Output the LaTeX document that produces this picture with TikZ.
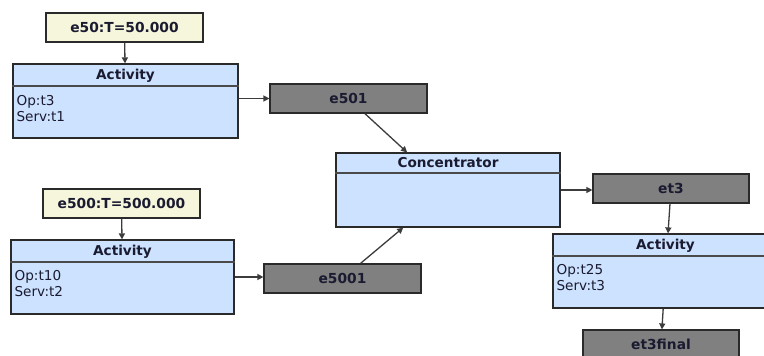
\documentclass[tikz,border=0pt]{standalone}
\usepackage{fontspec}
\setmainfont{DejaVu Sans}
\usetikzlibrary{arrows.meta}
\definecolor{cream}{HTML}{F6F6DC}
\definecolor{lblue}{HTML}{CCE2FF}
\definecolor{dgray}{HTML}{808080}
\definecolor{edgec}{HTML}{2A2A2A}
\definecolor{txt}{HTML}{1A1A30}
\definecolor{conn}{HTML}{3C3C3C}
\definecolor{sepc}{HTML}{4A4A4A}
\tikzset{
  base/.style={draw=edgec, line width=1.2pt, rectangle, inner sep=0pt, text=txt,
    font=\fontsize{13.8}{16}\selectfont\bfseries},
  evt/.style={base, fill=cream, minimum width=157pt, minimum height=29pt},
  msg/.style={base, fill=dgray, minimum width=157pt, minimum height=29pt},
  cls/.style={base, fill=lblue, minimum width=225pt, minimum height=74pt},
  ttl/.style={text=txt, inner sep=0pt, anchor=base, font=\fontsize{13.6}{16}\selectfont\bfseries},
  bodytxt/.style={text=txt, inner sep=0pt, anchor=base west, font=\fontsize{13.6}{16}\selectfont},
  sepline/.style={draw=sepc, line width=2pt},
  link/.style={draw=conn, line width=1.3pt, -{Triangle[length=6pt,width=6pt]}},
}
\begin{document}
\begin{tikzpicture}[x=1pt,y=-1pt]
\useasboundingbox (0,0) rectangle (764,356);
\clip (0,0) rectangle (764,356);
\fill[white] (0,0) rectangle (764,356);

% top chain
\node[evt] (e50) at (124.5,27.5) {e50:T=50.000};
\node[cls] (act1) at (125.5,101) {};
\node[msg] (e501) at (348.5,98.5) {e501};

% bottom chain
\node[evt] (e500) at (121.5,203.5) {e500:T=500.000};
\node[cls, minimum width=223pt] (act2) at (122.5,277) {};
\node[msg] (e5001) at (342.5,278.5) {e5001};

% concentrator
\node[cls, minimum width=224pt] (conc) at (448,190) {};

% right chain
\node[msg, minimum width=156pt] (et3) at (671,188.5) {et3};
\node[cls] (act3) at (665.5,271) {};
\node[msg, minimum width=156pt] (et3f) at (661,344.5) {et3final};

% dividers
\foreach \n/\d in {act1/23, act2/23, conc/21, act3/23}{
  \draw[sepline] ([yshift=-\d pt]\n.north west) -- ([yshift=-\d pt]\n.north east);
}

% titles
\node[ttl] (act1t) at ([yshift=-16.5pt]act1.north) {Activity};
\node[ttl] (act2t) at ([yshift=-16.5pt]act2.north) {Activity};
\node[ttl] (conct) at ([yshift=-15.5pt]conc.north) {Concentrator};
\node[ttl] (act3t) at ([yshift=-16.5pt]act3.north) {Activity};

% bodies
\node[bodytxt] (act1op) at ([xshift=4pt,yshift=-42pt]act1.north west) {Op:t3};
\node[bodytxt] (act1sv) at ([xshift=4pt,yshift=-58pt]act1.north west) {Serv:t1};
\node[bodytxt] (act2op) at ([xshift=4pt,yshift=-41pt]act2.north west) {Op:t10};
\node[bodytxt] (act2sv) at ([xshift=4pt,yshift=-57pt]act2.north west) {Serv:t2};
\node[bodytxt] (act3op) at ([xshift=4pt,yshift=-41pt]act3.north west) {Op:t25};
\node[bodytxt] (act3sv) at ([xshift=4pt,yshift=-57pt]act3.north west) {Serv:t3};

% connectors
\draw[link] (e50) -- (act1);
\draw[link] (act1.east |- e501.west) -- (e501.west);
\draw[link] (e501) -- (conc);
\draw[link] (e500) -- (act2);
\draw[link] (act2.east) -- (e5001.west |- act2.east);
\draw[link] (e5001) -- (conc);
\draw[link] (conc.east) -- (et3.west |- conc.east);
\draw[link] (et3) -- (act3);
\draw[link] (act3) -- (et3f);
\end{tikzpicture}
\end{document}
